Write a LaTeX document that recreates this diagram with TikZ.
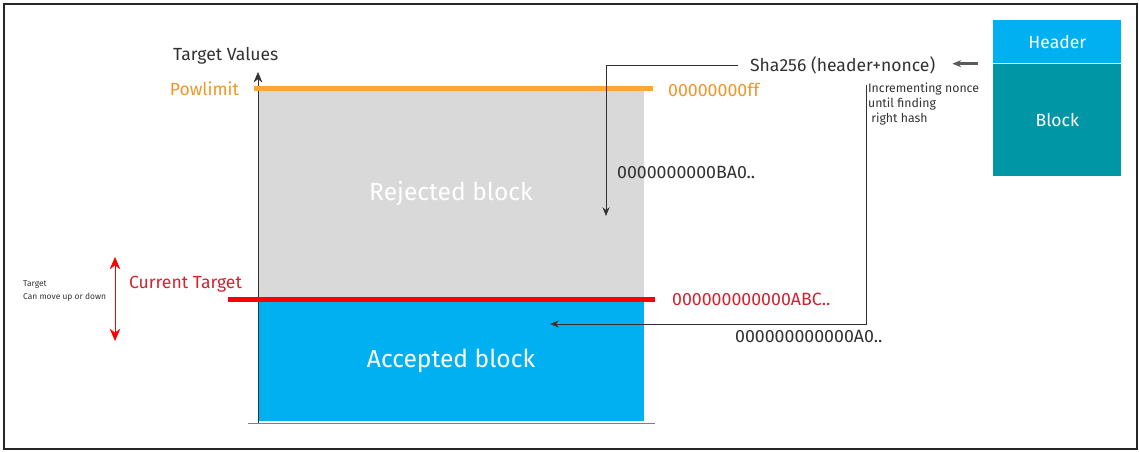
\documentclass[tikz,border=0pt]{standalone}
\usepackage{fontspec}
\setmainfont{Fira Sans}
\usepackage{xcolor}
\usepackage{tikz}
\usetikzlibrary{shapes,arrows.meta,positioning}

\definecolor{accblue}{RGB}{0,176,240}
\definecolor{blockteal}{RGB}{0,150,166}
\definecolor{powor}{RGB}{247,168,58}
\definecolor{powtext}{RGB}{240,150,40}
\definecolor{tgtred}{RGB}{208,36,48}
\definecolor{darkline}{RGB}{50,50,50}

\begin{document}
\begin{tikzpicture}[
    x=0.02cm, y=-0.02cm,
    % Plain labels
    txt/.style={inner sep=1pt, font=\fontsize{10}{12}\selectfont, text=darkline},
    hexlabel/.style={inner sep=1pt, font=\fontsize{10.1}{12}\selectfont, text=darkline},
    note/.style={inner sep=1pt, font=\fontsize{7}{8.5}\selectfont, text=darkline, align=left},
    % Value regions of the chart
    region/.style={rectangle, inner sep=0pt, minimum width=7.72cm, text=white,
        font=\fontsize{14}{16}\selectfont},
    % Header / block boxes
    hdrbox/.style={rectangle, inner sep=0pt, minimum width=2.56cm, text=white,
        font=\fontsize{10}{12}\selectfont},
    % Arrow styles
    arrow/.style={-{Stealth[length=5pt, width=4pt]}, thin, color=darkline},
    limit/.style={line width=0.1cm}
]
    \useasboundingbox (0,0) rectangle (1139,452);
    \draw[line width=0.05cm, color=black!85] (4,4) rectangle (1137,449);

    % Chart regions
    \node[region, fill=gray!30, minimum height=4.22cm, anchor=north west] (rejected) at (258,89) {};
    \node[region, fill=accblue, minimum height=2.42cm, anchor=north west] (accepted) at (258,300) {};
    \node[region] at (451,194) {Rejected block};
    \node[region] at (451,361) {Accepted block};

    % Axes
    \coordinate (origin) at (258,423);
    \coordinate (axistop) at (258,72);
    \draw[color=gray, thin] (248,423) -- (655,423);
    \draw[-{Stealth[length=6pt, width=5pt]}, thin, color=black!80] (origin) -- (axistop);
    \node[txt, anchor=west] (axislabel) at (171,56) {Target Values};

    % Powlimit
    \draw[limit, color=powor] (254,89) -- (653,89);
    \node[txt, text=powtext, anchor=east] (powlimit) at (241,89) {Powlimit};
    \node[hexlabel, text=powtext, anchor=west] (powval) at (666,90) {00000000ff};

    % Current target
    \draw[limit, color=red] (228,300) -- (655,300);
    \node[txt, text=tgtred, anchor=west] (curtarget) at (127,284) {Current Target};
    \node[hexlabel, text=tgtred, anchor=west] (tgtval) at (670,299) {000000000000ABC..};
    \coordinate (moveup) at (115,257);
    \coordinate (movedown) at (115,341);
    \draw[{Stealth[length=7pt, width=6pt]}-{Stealth[length=7pt, width=6pt]}, color=red] (moveup) -- (movedown);
    \node[note, font=\fontsize{4.8}{7}\selectfont, anchor=west] (movenote) at (21,291) {Target\\Can move up or down};

    % Hashing
    \node[txt, anchor=west] (sha) at (748,65) {Sha256 (header+nonce)};
    \coordinate (hitrej) at (606,216);
    \draw[arrow] ([xshift=-0.2cm]sha.west) -| (hitrej);
    \node[hexlabel, anchor=west] (bahash) at (615,172) {0000000000BA0..};

    % Header and block
    \node[hdrbox, fill=accblue, minimum height=0.86cm, anchor=north west] (header) at (993,20) {Header};
    \node[hdrbox, fill=blockteal, minimum height=2.24cm, below=0pt of header] (block) {Block};
    \draw[-{Stealth[length=5pt, width=4pt]}, line width=0.05cm, color=darkline!80, shorten <=0.3cm, shorten >=0.3cm]
        (header.south west) -- (header.south west -| sha.east);

    % Nonce loop
    \node[note, anchor=north west] (incnote) at (866,81) {Incrementing nonce\\until finding\\\ right hash};
    \coordinate (hitacc) at (550,324);
    \draw[arrow] ([yshift=-0.08cm]incnote.north west) |- (hitacc);
    \node[hexlabel, anchor=west] (ahash) at (733,336) {000000000000A0..};
\end{tikzpicture}
\end{document}
